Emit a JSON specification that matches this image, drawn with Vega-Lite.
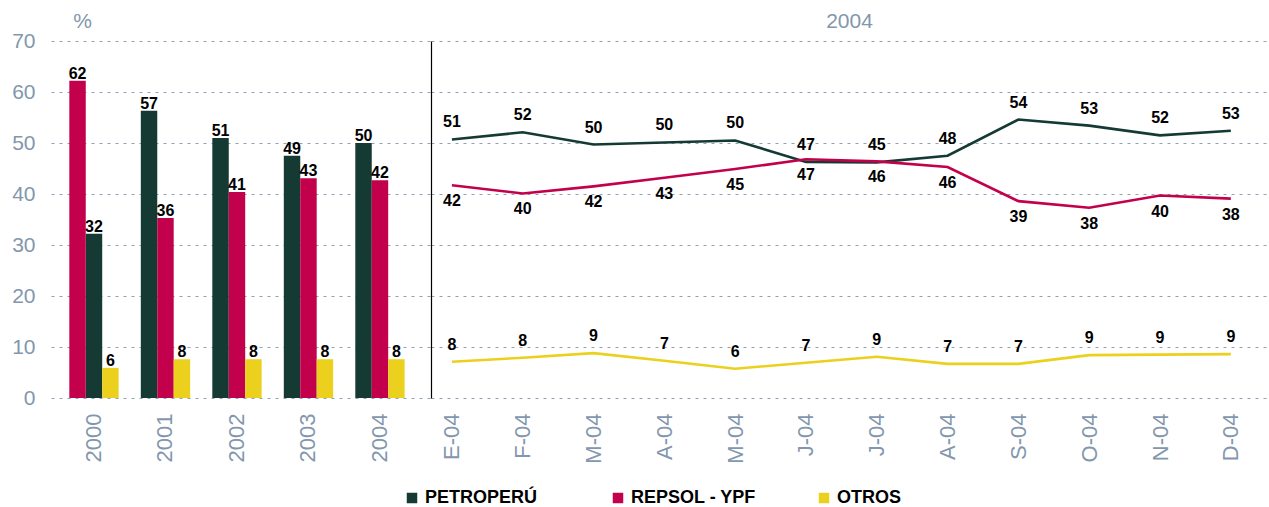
{
  "$schema": "https://vega.github.io/schema/vega-lite/v6.json",
  "padding": {"left": 11, "top": 10, "right": 0, "bottom": 0},
  "background": "white",
  "config": {
    "font": "Liberation Sans",
    "view": {"stroke": null},
    "axis": {"labelColor": "#8297ad", "labelFontSize": 21, "labelFont": "Liberation Sans", "ticks": false, "domain": false, "gridColor": "#8fa2b6", "gridDash": [3, 5], "gridWidth": 1.2},
    "title": {"font": "Liberation Sans", "fontSize": 21, "fontWeight": "normal", "color": "#8297ad"}
  },
  "datasets": {
    "anual": [
      {"periodo": "2000", "empresa": "PETROPERÚ", "valor": 32.2, "etiqueta": 32, "orden": 2},
      {"periodo": "2000", "empresa": "REPSOL - YPF", "valor": 62.2, "etiqueta": 62, "orden": 1},
      {"periodo": "2000", "empresa": "OTROS", "valor": 5.9, "etiqueta": 6, "orden": 3},
      {"periodo": "2001", "empresa": "PETROPERÚ", "valor": 56.3, "etiqueta": 57, "orden": 1},
      {"periodo": "2001", "empresa": "REPSOL - YPF", "valor": 35.3, "etiqueta": 36, "orden": 2},
      {"periodo": "2001", "empresa": "OTROS", "valor": 7.6, "etiqueta": 8, "orden": 3},
      {"periodo": "2002", "empresa": "PETROPERÚ", "valor": 51.0, "etiqueta": 51, "orden": 1},
      {"periodo": "2002", "empresa": "REPSOL - YPF", "valor": 40.4, "etiqueta": 41, "orden": 2},
      {"periodo": "2002", "empresa": "OTROS", "valor": 7.6, "etiqueta": 8, "orden": 3},
      {"periodo": "2003", "empresa": "PETROPERÚ", "valor": 47.5, "etiqueta": 49, "orden": 1},
      {"periodo": "2003", "empresa": "REPSOL - YPF", "valor": 43.1, "etiqueta": 43, "orden": 2},
      {"periodo": "2003", "empresa": "OTROS", "valor": 7.6, "etiqueta": 8, "orden": 3},
      {"periodo": "2004", "empresa": "PETROPERÚ", "valor": 50.0, "etiqueta": 50, "orden": 1},
      {"periodo": "2004", "empresa": "REPSOL - YPF", "valor": 42.7, "etiqueta": 42, "orden": 2},
      {"periodo": "2004", "empresa": "OTROS", "valor": 7.6, "etiqueta": 8, "orden": 3}
    ],
    "mensual": [
      {"mes": 1, "empresa": "PETROPERÚ", "valor": 50.7, "etiqueta": 51},
      {"mes": 2, "empresa": "PETROPERÚ", "valor": 52.1, "etiqueta": 52},
      {"mes": 3, "empresa": "PETROPERÚ", "valor": 49.7, "etiqueta": 50},
      {"mes": 4, "empresa": "PETROPERÚ", "valor": 50.1, "etiqueta": 50},
      {"mes": 5, "empresa": "PETROPERÚ", "valor": 50.5, "etiqueta": 50},
      {"mes": 6, "empresa": "PETROPERÚ", "valor": 46.3, "etiqueta": 47},
      {"mes": 7, "empresa": "PETROPERÚ", "valor": 46.2, "etiqueta": 45},
      {"mes": 8, "empresa": "PETROPERÚ", "valor": 47.5, "etiqueta": 48},
      {"mes": 9, "empresa": "PETROPERÚ", "valor": 54.6, "etiqueta": 54},
      {"mes": 10, "empresa": "PETROPERÚ", "valor": 53.4, "etiqueta": 53},
      {"mes": 11, "empresa": "PETROPERÚ", "valor": 51.5, "etiqueta": 52},
      {"mes": 12, "empresa": "PETROPERÚ", "valor": 52.4, "etiqueta": 53},
      {"mes": 1, "empresa": "REPSOL - YPF", "valor": 41.7, "etiqueta": 42},
      {"mes": 2, "empresa": "REPSOL - YPF", "valor": 40.1, "etiqueta": 40},
      {"mes": 3, "empresa": "REPSOL - YPF", "valor": 41.5, "etiqueta": 42},
      {"mes": 4, "empresa": "REPSOL - YPF", "valor": 43.2, "etiqueta": 43},
      {"mes": 5, "empresa": "REPSOL - YPF", "valor": 44.9, "etiqueta": 45},
      {"mes": 6, "empresa": "REPSOL - YPF", "valor": 46.8, "etiqueta": 47},
      {"mes": 7, "empresa": "REPSOL - YPF", "valor": 46.4, "etiqueta": 46},
      {"mes": 8, "empresa": "REPSOL - YPF", "valor": 45.3, "etiqueta": 46},
      {"mes": 9, "empresa": "REPSOL - YPF", "valor": 38.6, "etiqueta": 39},
      {"mes": 10, "empresa": "REPSOL - YPF", "valor": 37.3, "etiqueta": 38},
      {"mes": 11, "empresa": "REPSOL - YPF", "valor": 39.7, "etiqueta": 40},
      {"mes": 12, "empresa": "REPSOL - YPF", "valor": 39.1, "etiqueta": 38},
      {"mes": 1, "empresa": "OTROS", "valor": 7.1, "etiqueta": 8},
      {"mes": 2, "empresa": "OTROS", "valor": 7.9, "etiqueta": 8},
      {"mes": 3, "empresa": "OTROS", "valor": 8.8, "etiqueta": 9},
      {"mes": 4, "empresa": "OTROS", "valor": 7.3, "etiqueta": 7},
      {"mes": 5, "empresa": "OTROS", "valor": 5.75, "etiqueta": 6},
      {"mes": 6, "empresa": "OTROS", "valor": 6.9, "etiqueta": 7},
      {"mes": 7, "empresa": "OTROS", "valor": 8.1, "etiqueta": 9},
      {"mes": 8, "empresa": "OTROS", "valor": 6.7, "etiqueta": 7},
      {"mes": 9, "empresa": "OTROS", "valor": 6.7, "etiqueta": 7},
      {"mes": 10, "empresa": "OTROS", "valor": 8.4, "etiqueta": 9},
      {"mes": 11, "empresa": "OTROS", "valor": 8.5, "etiqueta": 9},
      {"mes": 12, "empresa": "OTROS", "valor": 8.6, "etiqueta": 9}
    ]
  },
  "spacing": 0,
  "hconcat": [
    {
      "width": 380,
      "height": 357,
      "data": {"name": "anual"},
      "encoding": {
        "x": {"field": "periodo", "type": "nominal", "scale": {"paddingInner": 0.31, "paddingOuter": 0.3125, "align": 0.41}, "axis": {"title": null, "labelAngle": -90, "labelAlign": "right", "labelBaseline": "middle", "labelPadding": 15, "labelFontSize": 22}},
        "xOffset": {"field": "orden", "type": "ordinal", "scale": {"paddingInner": 0, "paddingOuter": 0}},
        "y": {"field": "valor", "type": "quantitative", "scale": {"domain": [0, 70]}, "axis": {"values": [0, 10, 20, 30, 40, 50, 60, 70], "title": "%", "titleAngle": 0, "titleX": 31, "titleY": -10, "titleAlign": "center", "titleBaseline": "bottom", "titleFontSize": 21, "titleFontWeight": "normal", "titleColor": "#8297ad", "labelPadding": 16}}
      },
      "layer": [
        {
          "mark": {"type": "bar"},
          "encoding": {
            "color": {"field": "empresa", "type": "nominal", "scale": {"domain": ["PETROPERÚ", "REPSOL - YPF", "OTROS"], "range": ["#143a33", "#c3004b", "#ebd11d"]},
              "legend": {"title": null, "orient": "none", "legendX": 352, "legendY": 448, "direction": "horizontal", "columns": 3, "gridAlign": "all", "columnPadding": 58, "symbolType": "square", "symbolSize": 110, "symbolStrokeWidth": 0, "symbolOpacity": 1, "labelFontSize": 18, "labelFont": "Liberation Sans", "labelFontWeight": "bold", "labelColor": "#000000", "labelOffset": 4}}
          }
        },
        {
          "mark": {"type": "text", "baseline": "bottom", "dy": 1, "fontSize": 16, "fontWeight": "bold", "font": "Liberation Sans", "color": "#000000"},
          "encoding": {"text": {"field": "etiqueta", "type": "quantitative"}}
        }
      ]
    },
    {
      "width": 837,
      "height": 357,
      "title": {"text": "2004", "offset": 9},
      "data": {"name": "mensual"},
      "encoding": {
        "x": {"field": "mes", "type": "ordinal", "scale": {"type": "point", "padding": 0.41, "align": 0.36}, "axis": {"title": null, "labelAngle": -90, "labelAlign": "right", "labelBaseline": "middle", "labelPadding": 15, "labelFontSize": 22, "labelExpr": "['E-04','F-04','M-04','A-04','M-04','J-04','J-04','A-04','S-04','O-04','N-04','D-04'][datum.value - 1]"}},
        "y": {"field": "valor", "type": "quantitative", "scale": {"domain": [0, 70]}, "axis": {"values": [0, 10, 20, 30, 40, 50, 60, 70], "title": null, "labels": false, "domain": true, "domainColor": "#000000", "domainWidth": 1.2}}
      },
      "layer": [
        {
          "mark": {"type": "line", "strokeWidth": 2.6},
          "encoding": {
            "color": {"field": "empresa", "type": "nominal", "scale": {"domain": ["PETROPERÚ", "REPSOL - YPF", "OTROS"], "range": ["#143a33", "#c3004b", "#ebd11d"]}, "legend": null}
          }
        },
        {
          "transform": [{"filter": "datum.empresa == 'PETROPERÚ'"}],
          "mark": {"type": "text", "baseline": "middle", "dy": -17, "fontSize": 16, "fontWeight": "bold", "color": "#000000"},
          "encoding": {"text": {"field": "etiqueta", "type": "quantitative"}}
        },
        {
          "transform": [{"filter": "datum.empresa == 'REPSOL - YPF'"}],
          "mark": {"type": "text", "baseline": "middle", "dy": 16, "fontSize": 16, "fontWeight": "bold", "color": "#000000"},
          "encoding": {"text": {"field": "etiqueta", "type": "quantitative"}}
        },
        {
          "transform": [{"filter": "datum.empresa == 'OTROS'"}],
          "mark": {"type": "text", "baseline": "middle", "dy": -17, "fontSize": 16, "fontWeight": "bold", "color": "#000000"},
          "encoding": {"text": {"field": "etiqueta", "type": "quantitative"}}
        }
      ]
    }
  ]
}
